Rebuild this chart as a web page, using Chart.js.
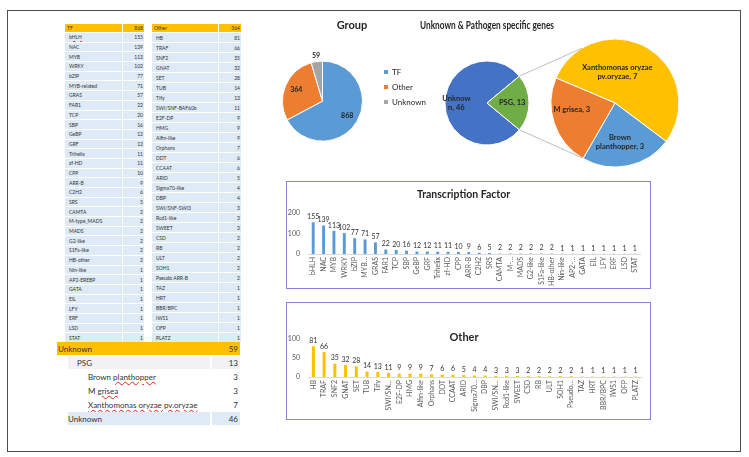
<!DOCTYPE html>
<html>
<head>
<meta charset="utf-8">
<script src="https://cdn.jsdelivr.net/npm/chart.js@4.4.1/dist/chart.umd.min.js"></script>
<style>
html, body { margin: 0; padding: 0; background: #fff; }
body { width: 749px; height: 457px; position: relative; overflow: hidden; font-family: Lato, "Noto Sans", sans-serif; color: #333; }
#frame { position: absolute; left: 7px; top: 10px; width: 734px; height: 442px; border: 1px solid #4d4d4d; box-sizing: border-box; }
canvas { position: absolute; }
.tbl { position: absolute; display: grid; gap: 1px; background: #fff; font-size: 5px; }
.tbl div { background: #DEEAF6; display: flex; align-items: center; white-space: nowrap; overflow: hidden; padding-left: 4px; }
.tbl div.v { justify-content: flex-end; padding: 0 1px 0 0; }
.tbl div.h { background: #FFC000; padding-left: 2px; }
.tbl div.h.v { padding: 0 1px 0 0; }
.row { position: absolute; height: 13px; display: flex; align-items: center; font-size: 8px; white-space: nowrap; }
.sp { text-decoration: underline wavy #e02020; text-decoration-thickness: 0.4px; text-underline-offset: 1px; }
.box { position: absolute; border: 1px solid #8c80d8; box-sizing: border-box; }
.box canvas { left: 0; top: 0; }
</style>
</head>
<body>
<div id="frame"></div>

<div class="tbl" id="tfTable" style="left:65px;top:24px;height:318px;grid-template-columns:57px 21px;"></div>
<div class="tbl" id="otherTable" style="left:152px;top:24px;height:318px;grid-template-columns:66px 22px;"></div>
<div id="unkRows"></div>

<canvas id="groupChart" width="170" height="150" style="left:266px;top:12px;"></canvas>
<canvas id="psgChart" width="280" height="165" style="left:420px;top:10px;"></canvas>
<canvas id="pathChart" width="280" height="165" style="left:420px;top:10px;"></canvas>

<div class="box" style="left:286px;top:181px;width:365px;height:108px;">
  <canvas id="tfChart" width="363" height="106"></canvas>
</div>
<div class="box" style="left:286px;top:302px;width:365px;height:118px;">
  <canvas id="otherChart" width="363" height="116"></canvas>
</div>

<script>
// ---- data ----
const tfNames = ['bHLH', 'NAC', 'MYB', 'WRKY', 'bZIP', 'MYB-related', 'GRAS', 'FAR1', 'TCP', 'SBP', 'GeBP', 'GRF',
  'Trihelix', 'zf-HD', 'CPP', 'ARR-B', 'C2H2', 'SRS', 'CAMTA', 'M-type_MADS', 'MADS', 'G2-like', 'S1Fa-like',
  'HB-other', 'Nin-like', 'AP2-EREBP', 'GATA', 'EIL', 'LFY', 'ERF', 'LSD', 'STAT'];
const tfTicks = ['bHLH', 'NAC', 'MYB', 'WRKY', 'bZIP', 'MYB…', 'GRAS', 'FAR1', 'TCP', 'SBP', 'GeBP', 'GRF',
  'Trihelix', 'zf-HD', 'CPP', 'ARR-B', 'C2H2', 'SRS', 'CAMTA', 'M-…', 'MADS', 'G2-like', 'S1Fa-like',
  'HB-other', 'Nin-like', 'AP2-…', 'GATA', 'EIL', 'LFY', 'ERF', 'LSD', 'STAT'];
const tfValues = [155, 139, 113, 102, 77, 71, 57, 22, 20, 16, 12, 12, 11, 11, 10, 9, 6, 5, 2, 2, 2, 2, 2, 2,
  1, 1, 1, 1, 1, 1, 1, 1];

const otherNames = ['HB', 'TRAF', 'SNF2', 'GNAT', 'SET', 'TUB', 'Tify', 'SWI/SNF-BAF60b', 'E2F-DP', 'HMG',
  'Alfin-like', 'Orphans', 'DDT', 'CCAAT', 'ARID', 'Sigma70-like', 'DBP', 'SWI/SNF-SWI3', 'Rcd1-like', 'SWEET',
  'CSD', 'RB', 'ULT', 'SOH1', 'Pseudo ARR-B', 'TAZ', 'HRT', 'BBR/BPC', 'IWS1', 'OFP', 'PLATZ'];
const otherTicks = ['HB', 'TRAF', 'SNF2', 'GNAT', 'SET', 'TUB', 'Tify', 'SWI/SN…', 'E2F-DP', 'HMG',
  'Alfin-like', 'Orphans', 'DDT', 'CCAAT', 'ARID', 'Sigma70…', 'DBP', 'SWI/SN…', 'Rcd1-like', 'SWEET',
  'CSD', 'RB', 'ULT', 'SOH1', 'Pseudo…', 'TAZ', 'HRT', 'BBR/BPC', 'IWS1', 'OFP', 'PLATZ'];
const otherValues = [81, 66, 35, 32, 28, 14, 13, 11, 9, 9, 9, 7, 6, 6, 5, 4, 4, 3, 3, 3, 2, 2, 2, 2, 2,
  1, 1, 1, 1, 1, 1];

const groupLabels = ['TF', 'Other', 'Unknown'];
const groupValues = [868, 364, 59];

const psgLabels = ['Unknown', 'PSG'];
const psgValues = [46, 13];
const psgWrapped = ['Unknow|n', 'PSG'];

const pathLabels = ['Xanthomonas oryzae pv.oryzae', 'Brown planthopper', 'M grisea'];
const pathValues = [7, 3, 3];
const pathWrapped = ['Xanthomonas oryzae|pv.oryzae', 'Brown|planthopper', 'M grisea'];

// left-bottom table
const unkTotal = 59;
const unkNames = ['PSG', 'Brown planthopper', 'M grisea', 'Xanthomonas oryzae pv.oryzae', 'Unknown'];
const unkValues = [13, 3, 3, 7, 46];

// ---- tables ----
const misspelt = ['bHLH', 'planthopper', 'grisea', 'Xanthomonas oryzae pv.oryzae'];
function mark(txt) {
  let out = txt;
  misspelt.forEach(w => { out = out.replace(w, '<span class="sp">' + w + '</span>'); });
  return out;
}
function fillTable(id, head, names, values) {
  const el = document.getElementById(id);
  const total = values.reduce((a, b) => a + b, 0);
  el.style.gridTemplateRows = '8px repeat(' + names.length + ', 1fr)';
  let html = '<div class="h">' + head + '</div><div class="h v">' + total + '</div>';
  names.forEach((n, i) => { html += '<div>' + mark(n) + '</div><div class="v">' + values[i] + '</div>'; });
  el.innerHTML = html;
}
fillTable('tfTable', 'TF', tfNames, tfValues);
fillTable('otherTable', 'Other', otherNames, otherValues);

(function () {
  const wrap = document.getElementById('unkRows');
  let html = '<div class="row" style="left:57px;top:342px;width:183px;background:#FFC000;">' +
    '<span style="padding-left:1px;flex:1">Unknown</span><span style="padding-right:2px">' + unkTotal + '</span></div>';
  const indent = [77, 88, 88, 88, 68];
  const fill = ['#F2F2F2', null, null, null, '#DEEAF6'];
  unkNames.forEach((n, i) => {
    const top = 356 + i * 14;
    const bg = fill[i] ? 'background:' + fill[i] + ';' : '';
    html += '<div class="row" style="left:68px;top:' + top + 'px;width:142px;' + bg + '">' +
      '<span style="padding-left:' + (indent[i] - 68) + 'px">' + mark(n) + '</span></div>';
    html += '<div class="row" style="left:212px;top:' + top + 'px;width:28px;justify-content:flex-end;' + bg + '">' +
      '<span style="padding-right:2px">' + unkValues[i] + '</span></div>';
  });
  wrap.innerHTML = html;
})();

// ---- chart helpers ----
Chart.defaults.font.family = 'Lato, "Noto Sans", sans-serif';
Chart.defaults.color = '#404040';

const sliceLabels = {
  id: 'sliceLabels',
  afterDatasetsDraw(chart, args, opts) {
    const ctx = chart.ctx;
    const meta = chart.getDatasetMeta(0);
    ctx.save();
    ctx.font = opts.font;
    ctx.fillStyle = opts.color;
    ctx.textAlign = 'center';
    ctx.textBaseline = 'middle';
    meta.data.forEach((arc, i) => {
      const p = arc.getProps(['x', 'y', 'startAngle', 'endAngle', 'outerRadius'], true);
      const mid = (p.startAngle + p.endAngle) / 2;
      const r = p.outerRadius * opts.dist[i];
      const nudge = opts.nudge ? opts.nudge[i] : [0, 0];
      const cx = p.x + Math.cos(mid) * r + nudge[0];
      const cy = p.y + Math.sin(mid) * r + nudge[1];
      const lines = opts.lines[i];
      lines.forEach((t, j) => ctx.fillText(t, cx, cy + (j - (lines.length - 1) / 2) * opts.lineHeight));
    });
    ctx.restore();
  }
};

const valueLabels = {
  id: 'valueLabels',
  afterDatasetsDraw(chart, args, opts) {
    const ctx = chart.ctx;
    const meta = chart.getDatasetMeta(0);
    const vals = chart.data.datasets[0].data;
    ctx.save();
    ctx.font = opts.font;
    ctx.fillStyle = opts.color;
    ctx.textAlign = 'center';
    ctx.textBaseline = 'bottom';
    meta.data.forEach((bar, i) => ctx.fillText(vals[i], bar.x, bar.y - opts.gap));
    ctx.restore();
  }
};

// ---- Group pie ----
new Chart(document.getElementById('groupChart'), {
  type: 'pie',
  data: {
    labels: groupLabels,
    datasets: [{
      data: groupValues,
      backgroundColor: ['#5B9BD5', '#ED7D31', '#A5A5A5'],
      borderColor: '#fff',
      borderWidth: 1,
      radius: 40
    }]
  },
  options: {
    responsive: false,
    animation: false,
    layout: { padding: { left: 2, right: 0, top: 0, bottom: 0 } },
    plugins: {
      title: { display: true, text: 'Group', color: '#262626', font: { size: 11, weight: 'bold' }, padding: { top: 7, bottom: 8 } },
      legend: {
        position: 'right',
        labels: {
          boxWidth: 4, boxHeight: 4, padding: 7, color: '#262626', font: { size: 8 },
          generateLabels: (chart) => Chart.overrides.pie.plugins.legend.labels.generateLabels(chart)
            .map(l => Object.assign(l, { lineWidth: 0 }))
        }
      },
      tooltip: { enabled: false },
      sliceLabels: {
        font: 'bold 7px Lato', color: '#262626', lineHeight: 8,
        lines: groupValues.map(v => [String(v)]),
        dist: [0.72, 0.71, 1.14]
      }
    }
  },
  plugins: [sliceLabels]
});

// ---- Unknown & PSG pie (bar-of-pie) ----
const psgChart = new Chart(document.getElementById('psgChart'), {
  type: 'pie',
  data: {
    labels: psgLabels,
    datasets: [{
      data: psgValues,
      backgroundColor: ['#4472C4', '#70AD47'],
      borderColor: '#fff',
      borderWidth: 1,
      radius: 42
    }]
  },
  options: {
    responsive: false,
    animation: false,
    rotation: 129.6,
    layout: { padding: { left: 0, right: 146, top: 0, bottom: 1.4 } },
    plugins: {
      title: { display: true, text: 'Unknown & Pathogen specific genes', color: '#262626', font: { size: 12, weight: 'bold' }, padding: { top: 8, bottom: 0 } },
      legend: { display: false },
      tooltip: { enabled: false },
      sliceLabels: {
        font: 'bold 7.5px Lato', color: '#262626', lineHeight: 9,
        lines: psgWrapped.map((t, i) => (t + ', ' + psgValues[i]).split('|')),
        dist: [0.73, 0.6]
      }
    }
  },
  plugins: [sliceLabels]
});

const connectors = {
  id: 'connectors',
  afterDraw(chart) {
    const a = psgChart.getDatasetMeta(0).data[1].getProps(['x', 'y', 'startAngle', 'endAngle', 'outerRadius'], true);
    const b = chart.getDatasetMeta(0).data[0].getProps(['x', 'y', 'outerRadius'], true);
    const t = 31 * Math.PI / 180;
    const ctx = chart.ctx;
    ctx.save();
    ctx.strokeStyle = '#BFBFBF';
    ctx.lineWidth = 1;
    ctx.beginPath();
    ctx.moveTo(a.x + a.outerRadius * Math.cos(a.startAngle), a.y + a.outerRadius * Math.sin(a.startAngle));
    ctx.lineTo(b.x - b.outerRadius * Math.sin(t), b.y - b.outerRadius * Math.cos(t));
    ctx.moveTo(a.x + a.outerRadius * Math.cos(a.endAngle), a.y + a.outerRadius * Math.sin(a.endAngle));
    ctx.lineTo(b.x - b.outerRadius * Math.sin(t), b.y + b.outerRadius * Math.cos(t));
    ctx.stroke();
    ctx.restore();
  }
};

new Chart(document.getElementById('pathChart'), {
  type: 'pie',
  data: {
    labels: pathLabels,
    datasets: [{
      data: pathValues,
      backgroundColor: ['#FFC000', '#5B9BD5', '#ED7D31'],
      borderColor: '#fff',
      borderWidth: 1,
      radius: 64
    }]
  },
  options: {
    responsive: false,
    animation: false,
    rotation: -67,
    layout: { padding: { left: 130, right: 20, top: 28, bottom: 7 } },
    plugins: {
      legend: { display: false },
      tooltip: { enabled: false },
      sliceLabels: {
        font: 'bold 7.5px Lato', color: '#262626', lineHeight: 9,
        lines: pathWrapped.map((t, i) => (t + ', ' + pathValues[i]).split('|')),
        dist: [0.48, 0.62, 0.68],
        nudge: [[-13, -4], [-3, 0], [-2, -7]]
      }
    }
  },
  plugins: [sliceLabels, connectors]
});

// ---- bar charts ----
function barChart(id, ticks, values, color, title, cfg) {
  return new Chart(document.getElementById(id), {
    type: 'bar',
    data: {
      labels: ticks,
      datasets: [{ data: values, backgroundColor: color, barPercentage: 0.28, categoryPercentage: 1 }]
    },
    options: {
      responsive: false,
      animation: false,
      layout: { padding: { left: 0, right: cfg.padR, top: 0, bottom: cfg.padB } },
      plugins: {
        legend: { display: false },
        tooltip: { enabled: false },
        title: { display: true, text: title, color: '#262626', font: { size: cfg.titleSize, weight: 'bold' }, padding: cfg.titlePad },
        valueLabels: { font: '7px Lato', color: '#333', gap: 2 }
      },
      scales: {
        x: {
          grid: { display: false, drawTicks: false },
          border: { color: '#D9D9D9' },
          ticks: { autoSkip: false, maxRotation: 90, minRotation: 90, padding: 3, color: '#595959', font: { size: 7 } },
          afterFit: s => { s.height = cfg.xH; }
        },
        y: {
          min: 0, max: cfg.yMax,
          grid: { display: false, drawTicks: false },
          border: { display: false },
          ticks: { stepSize: 50, padding: 8, color: '#595959', font: { size: 7 } },
          afterFit: s => { s.width = 21; }
        }
      }
    },
    plugins: [valueLabels]
  });
}

barChart('tfChart', tfTicks, tfValues, '#5B9BD5', 'Transcription Factor',
  { padR: 10, padB: 2, xH: 32, yMax: 200, titleSize: 10.5, titlePad: { top: 6.7, bottom: 11.7 } });
barChart('otherChart', otherTicks, otherValues, '#FFC000', 'Other',
  { padR: 9, padB: 6, xH: 36, yMax: 100, titleSize: 11, titlePad: { top: 27.4, bottom: -4.6 } });
</script>
</body>
</html>
